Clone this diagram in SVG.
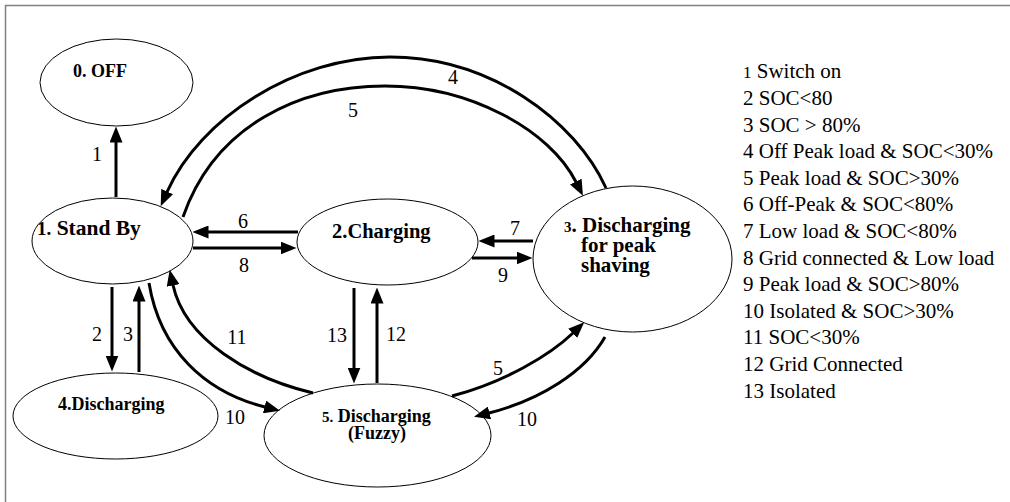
<svg xmlns="http://www.w3.org/2000/svg" width="1010" height="502" viewBox="0 0 1010 502">
<style>
.st{fill:#fff;stroke:#000;stroke-width:1}
.nt{font-family:'Liberation Serif','Times New Roman',serif;font-weight:bold;fill:#000}
.ed{fill:none;stroke:#000;stroke-width:3;marker-end:url(#ah)}
.lb{font-family:'Liberation Serif','Times New Roman',serif;font-size:20px;fill:#000;text-anchor:middle}
.lg{font-family:'Liberation Serif','Times New Roman',serif;font-size:21px;fill:#000}
</style>
<defs>
<marker id="ah" viewBox="0 0 16 13" refX="0.5" refY="6.5" markerWidth="16" markerHeight="13" markerUnits="userSpaceOnUse" orient="auto">
<path d="M0,0 L16,6.5 L0,13 z" fill="#000"/>
</marker>
</defs>
<rect width="1010" height="502" fill="#fff"/>
<path d="M5.5,502 L5.5,5.5 L1010,5.5" fill="none" stroke="#808080" stroke-width="1.5"/>

<g id="node-off">
<ellipse class="st" cx="116.5" cy="82.5" rx="76.5" ry="43.5"/>
<text class="nt" x="73" y="77" font-size="18">0. OFF</text>
</g>
<g id="node-standby">
<ellipse class="st" cx="112.5" cy="241" rx="80.5" ry="43"/>
<text class="nt" x="37" y="235" font-size="21.5"><tspan font-size="19">1.</tspan> Stand By</text>
</g>
<g id="node-charging">
<ellipse class="st" cx="387.5" cy="242" rx="90.5" ry="43"/>
<text class="nt" x="332" y="238" font-size="20.5">2.Charging</text>
</g>
<g id="node-peak">
<ellipse class="st" cx="632.5" cy="259" rx="99.5" ry="73"/>
<text class="nt" x="564" y="232" font-size="21"><tspan font-size="15">3</tspan>. Discharging</text>
<text class="nt" x="581" y="252" font-size="21">for peak</text>
<text class="nt" x="581" y="272" font-size="21">shaving</text>
</g>
<g id="node-discharging">
<ellipse class="st" cx="115.5" cy="416" rx="102.5" ry="43"/>
<text class="nt" x="58" y="410" font-size="18">4.Discharging</text>
</g>
<g id="node-fuzzy">
<ellipse class="st" cx="377.5" cy="435.5" rx="113.5" ry="51.5"/>
<text class="nt" x="322" y="422" font-size="18"><tspan font-size="15">5.</tspan> Discharging</text>
<text class="nt" x="348" y="439" font-size="18">(Fuzzy)</text>
</g>

<g id="connectors">
<path class="ed" d="M116,197 L116,142"/>
<path class="ed" d="M298,232 L208,232"/>
<path class="ed" d="M193,248 L281,248"/>
<path class="ed" d="M533,241 L494,241"/>
<path class="ed" d="M472,258 L517,258"/>
<path class="ed" d="M112,287 L112,356"/>
<path class="ed" d="M139,372 L139,301"/>
<path class="ed" d="M354,288 L354,368"/>
<path class="ed" d="M377,383 L377,303"/>
<path class="ed" d="M606,188 C575,120 490,57 390,57 C295,57 200,118 167,192"/>
<path class="ed" d="M183,217 C215,125 300,86 385,86 C470,86 550,130 576,182"/>
<path class="ed" d="M313,393 C250,378 185,340 173,285"/>
<path class="ed" d="M149,283 C160,350 205,392 265,407"/>
<path class="ed" d="M452,396 C505,382 550,355 573,333"/>
<path class="ed" d="M605,337 C585,372 540,400 489,413"/>
<text class="lb" x="97" y="161">1</text>
<text class="lb" x="243" y="228">6</text>
<text class="lb" x="244" y="272">8</text>
<text class="lb" x="453" y="84">4</text>
<text class="lb" x="353" y="117">5</text>
<text class="lb" x="515" y="235">7</text>
<text class="lb" x="503" y="282">9</text>
<text class="lb" x="97" y="341">2</text>
<text class="lb" x="128" y="341">3</text>
<text class="lb" x="237" y="344">11</text>
<text class="lb" x="235" y="424">10</text>
<text class="lb" x="337" y="342">13</text>
<text class="lb" x="396" y="341">12</text>
<text class="lb" x="498" y="375">5</text>
<text class="lb" x="527" y="426">10</text>
</g>

<g id="legend">
<text class="lg" x="743" y="78.3"><tspan font-size="17">1</tspan> Switch on</text>
<text class="lg" x="743" y="104.9">2 SOC&lt;80</text>
<text class="lg" x="743" y="131.5">3 SOC &gt; 80%</text>
<text class="lg" x="743" y="158.1">4 Off Peak load &amp; SOC&lt;30%</text>
<text class="lg" x="743" y="184.7">5 Peak load &amp; SOC&gt;30%</text>
<text class="lg" x="743" y="211.3">6 Off-Peak &amp; SOC&lt;80%</text>
<text class="lg" x="743" y="237.9">7 Low load &amp; SOC&lt;80%</text>
<text class="lg" x="743" y="264.5">8 Grid connected &amp; Low load</text>
<text class="lg" x="743" y="291.1">9 Peak load &amp; SOC&gt;80%</text>
<text class="lg" x="743" y="317.7">10 Isolated &amp; SOC&gt;30%</text>
<text class="lg" x="743" y="344.3">11 SOC&lt;30%</text>
<text class="lg" x="743" y="370.9">12 Grid Connected</text>
<text class="lg" x="743" y="397.5">13 Isolated</text>
</g>
</svg>
